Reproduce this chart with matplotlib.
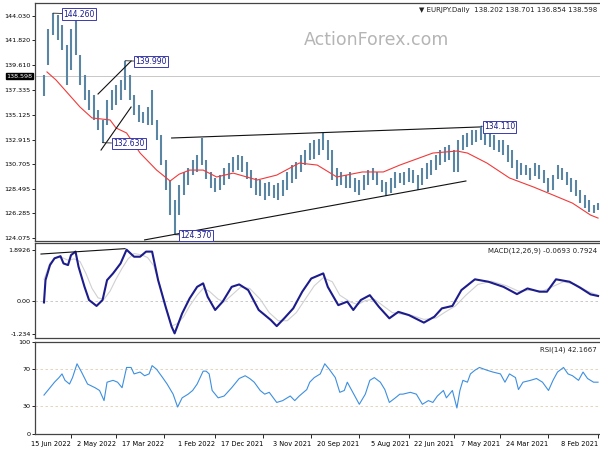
import numpy as np
import matplotlib
matplotlib.use("Agg")
import matplotlib.pyplot as plt
from matplotlib.transforms import blended_transform_factory

# Bar index 0 = 8 Feb 2021, counted in trading days; the chart is drawn mirrored
# (newest on the left, price scale on the left) like the reference.

# ---- price bars (every 3rd bar) ----
price_bar = np.arange(0, 370, 3)
price_high = [127.2, 127.0, 127.5, 127.9, 128.4, 129.3, 129.5, 130.0, 130.4, 130.6,
              129.7, 129.5, 130.2, 130.6, 130.8, 130.4, 130.6, 130.8, 131.1, 132.0,
              132.4, 132.9, 132.9, 133.3, 133.5, 133.6, 134.11, 133.8, 133.8, 133.5,
              133.3, 132.9, 132.0, 132.4, 132.2, 132.0, 131.5, 131.1, 130.8, 130.4,
              129.7, 130.2, 130.4, 130.0, 129.9, 130.0, 129.5, 129.1, 129.3, 130.0,
              130.4, 130.2, 129.7, 129.3, 129.5, 130.0, 129.7, 130.0, 130.4, 132.0,
              132.9, 133.5, 133.0, 132.9, 132.6, 132.0, 131.5, 130.9, 130.6, 130.0,
              129.3, 129.0, 128.8, 129.1, 129.0, 129.3, 129.5, 130.2, 130.9, 131.4,
              131.5, 131.3, 130.8, 130.4, 129.7, 129.5, 130.0, 131.1, 133.05, 131.5,
              131.1, 130.4, 130.0, 128.8, 127.5, 129.3, 131.1, 133.3, 134.7, 137.4,
              135.8, 135.4, 136.0, 136.9, 138.7, 139.99, 138.3, 137.8, 137.4, 136.5,
              134.7, 135.6, 136.9, 137.4, 138.7, 140.5, 144.1, 142.8, 141.4, 143.2,
              144.1, 144.26, 142.8, 138.70]
price_low = [126.6, 126.3, 126.4, 126.8, 127.2, 127.8, 128.2, 128.8, 129.3, 129.4,
             128.4, 128.2, 129.0, 129.4, 129.6, 129.3, 129.7, 129.7, 129.4, 130.4,
             130.9, 131.5, 131.8, 132.0, 132.2, 132.4, 132.9, 132.7, 132.4, 132.2,
             132.0, 130.0, 130.0, 131.1, 130.9, 130.6, 130.2, 129.7, 129.4, 128.8,
             128.4, 129.0, 129.1, 128.8, 129.0, 128.6, 128.1, 127.8, 128.2, 128.8,
             129.3, 128.8, 128.4, 127.9, 128.2, 128.6, 128.6, 128.8, 128.7, 129.3,
             131.1, 132.0, 131.5, 131.2, 131.1, 130.6, 130.0, 129.4, 129.0, 128.4,
             127.8, 127.5, 127.7, 127.8, 127.5, 127.8, 127.9, 128.6, 129.4, 130.0,
             130.2, 130.0, 129.4, 128.8, 128.4, 128.2, 128.6, 129.4, 130.6, 130.0,
             129.7, 128.8, 127.9, 126.1, 124.37, 126.1, 128.4, 130.6, 132.9, 134.2,
             134.2, 134.4, 134.5, 135.1, 136.5, 137.4, 136.5, 136.0, 135.6, 134.2,
             132.63, 133.8, 134.7, 135.6, 136.5, 137.8, 140.5, 139.2, 137.8, 140.95,
             141.85, 142.3, 139.6, 136.85]

# ---- moving average ----
ma_bar = [0, 5, 17, 30, 43, 59, 74, 87, 94, 110, 132, 143, 157, 174, 187, 199, 214,
          227, 243, 254, 263, 272, 279, 285, 294, 305, 314, 321, 325, 337, 345, 361, 367]
ma_val = [125.86, 126.13, 127.2, 127.93, 128.65, 129.46, 130.8, 131.7, 131.88, 131.7,
          130.62, 130.0, 130.0, 129.55, 130.62, 130.8, 129.72, 129.28, 129.9, 129.55,
          130.17, 130.17, 129.8, 129.19, 130.17, 131.7, 133.5, 133.95, 134.67, 134.85,
          135.83, 138.26, 138.98]

# ---- MACD ----
macd_bar = [0, 5, 12, 19, 28, 34, 39, 47, 54, 63, 73, 82, 91, 97, 104, 109, 116, 126,
            133, 139, 146, 152, 158, 163, 167, 173, 180, 183, 191, 197, 203, 209, 214,
            218, 226, 233, 239, 244, 250, 255, 260, 263, 267, 272, 277, 282, 284, 288,
            293, 297, 301, 305, 309, 314, 318, 323, 327, 330, 334, 339, 342, 346, 348,
            351, 353, 356, 358, 362, 365, 368, 369]
macd_val = [0.17, 0.23, 0.48, 0.7, 0.79, 0.33, 0.33, 0.45, 0.24, 0.51, 0.7, 0.79,
            0.39, -0.2, -0.29, -0.6, -0.82, -0.54, -0.42, -0.66, -0.23, 0.2, 0.02,
            -0.35, -0.04, -0.17, 0.51, 1.01, 0.82, 0.33, -0.29, -0.66, -0.95, -0.72,
            -0.35, 0.39, 0.6, 0.51, -0.04, -0.35, 0.14, 0.64, 0.51, 0.08, -0.48, -1.22,
            -0.97, -0.23, 0.76, 1.82, 1.82, 1.63, 1.63, 1.89, 1.38, 1.01, 0.76, 0.02,
            -0.2, 0.02, 0.51, 1.26, 1.82, 1.69, 1.32, 1.38, 1.65, 1.57, 1.32, 0.76, -0.07]
signal_bar = [0, 7, 15, 23, 31, 37, 45, 53, 61, 71, 80, 88, 95, 101, 108, 116, 124,
              131, 137, 143, 149, 155, 160, 165, 172, 177, 183, 189, 195, 201, 207, 213,
              219, 225, 232, 238, 243, 249, 253, 259, 263, 267, 272, 276, 280, 284, 288,
              292, 296, 300, 304, 309, 313, 317, 321, 325, 329, 333, 337, 341, 345, 349,
              353, 357, 361, 365, 369]
signal_val = [0.2, 0.35, 0.6, 0.7, 0.5, 0.35, 0.38, 0.35, 0.55, 0.72, 0.6, 0.2, -0.2,
              -0.4, -0.65, -0.7, -0.55, -0.5, -0.45, -0.2, 0.05, 0.0, -0.15, -0.05, 0.2,
              0.7, 0.85, 0.55, 0.05, -0.45, -0.75, -0.75, -0.45, 0.05, 0.45, 0.5, 0.25,
              -0.05, 0.05, 0.35, 0.45, 0.2, -0.2, -0.6, -0.85, -0.95, -0.2, 0.6, 1.3,
              1.6, 1.7, 1.75, 1.55, 1.2, 0.8, 0.35, 0.05, 0.1, 0.45, 1.0, 1.45, 1.55,
              1.5, 1.6, 1.6, 1.4, 0.79]

# ---- RSI ----
rsi_bar = [0, 3, 7, 10, 13, 17, 20, 23, 27, 30, 33, 37, 41, 45, 50, 53, 55, 59, 62,
           65, 70, 74, 79, 82, 85, 87, 90, 92, 94, 97, 101, 103, 107, 110, 113, 117,
           121, 125, 130, 132, 135, 139, 142, 145, 149, 152, 155, 159, 161, 164, 167,
           169, 172, 175, 179, 182, 185, 189, 192, 194, 199, 202, 205, 210, 214, 219,
           222, 225, 229, 232, 235, 239, 244, 249, 253, 257, 259, 261, 263, 267, 270,
           273, 277, 280, 283, 287, 290, 294, 297, 299, 302, 305, 309, 311, 314, 317,
           320, 323, 327, 329, 332, 335, 340, 344, 347, 350, 352, 355, 357, 359, 362,
           365, 369]
rsi_val = [56, 56, 60, 67, 58, 63, 65, 72, 67, 58, 47, 56, 60, 58, 56, 48, 61, 65, 56,
           65, 67, 69, 72, 69, 65, 56, 58, 47, 28, 47, 39, 47, 41, 34, 36, 32, 43, 45,
           43, 43, 39, 34, 48, 56, 61, 58, 43, 32, 38, 47, 56, 47, 45, 61, 70, 76, 65,
           61, 56, 48, 41, 36, 41, 36, 34, 45, 43, 47, 56, 60, 63, 60, 50, 41, 39, 47,
           65, 68, 68, 54, 47, 43, 39, 29, 43, 54, 61, 70, 74, 65, 63, 67, 65, 72, 72,
           50, 56, 58, 56, 36, 47, 50, 54, 67, 76, 61, 54, 58, 65, 61, 56, 50, 42]

# ---- trend lines (bar, price) ----
trend_lines = [((333, 137.0), (311, 139.96)),
               ((331, 131.97), (311, 135.83)),
               ((284, 133.05), (79, 134.04)),
               ((302, 123.9), (88, 129.19))]
macd_line = ((371, 1.73), (315, 1.93))

# ---- labelled extremes: (bar, price, text bar, text price, label) ----
marks = [(363, 144.26, 356, 144.18, "144.260"),
         (315, 139.99, 308, 139.9, "139.990"),
         (330, 132.63, 323, 132.55, "132.630"),
         (282, 124.37, 278, 124.3, "124.370"),
         (78, 134.11, 76, 134.04, "134.110")]

date_bar = [0, 33, 65, 96, 126, 159, 191, 223, 255, 289, 321, 351]
date_lbl = ["8 Feb 2021", "24 Mar 2021", "7 May 2021", "22 Jun 2021", "5 Aug 2021",
            "20 Sep 2021", "3 Nov 2021", "17 Dec 2021", "1 Feb 2022", "17 Mar 2022",
            "2 May 2022", "15 Jun 2022"]

main_ticks = [144.030, 141.820, 139.610, 137.335, 135.125, 132.915, 130.705,
              128.495, 126.285, 124.075]
last_price = 138.598

plt.rcParams['font.family'] = ['DejaVu Sans']
fig = plt.figure(figsize=(6, 4.5), dpi=100)
ax = fig.add_axes([0.0583, 0.4644, 0.9417, 0.5289])
ax2 = fig.add_axes([0.0583, 0.2496, 0.9417, 0.2104])
ax3 = fig.add_axes([0.0583, 0.0349, 0.9417, 0.2058])

for a in (ax, ax2, ax3):
    a.set_xlim(375, -1.3)
    for s in ('top', 'left', 'bottom'):
        a.spines[s].set_color('#444444')
        a.spines[s].set_linewidth(0.9)
    a.spines['right'].set_visible(False)
    a.tick_params(axis='y', labelsize=4.6, length=2, width=0.6, pad=1)
    a.tick_params(axis='x', length=0)
    a.set_xticks([])

# main panel
ax.set_ylim(123.8, 145.17)
ax.vlines(price_bar, price_low, price_high, color='#5a86a3', lw=1.5)
ax.plot(ma_bar, ma_val, color='#f03a3a', lw=0.8)
ax.axhline(last_price, color='#c8c8c8', lw=0.7, zorder=0)
for (b0, p0), (b1, p1) in trend_lines:
    ax.plot([b0, b1], [p0, p1], color='#111111', lw=0.8)
for b, p, tb, tp, lbl in marks:
    ax.annotate(lbl, xy=(b, p), xytext=(tb, tp), fontsize=5.5, color='#1a1a8a',
                ha='left', va='center',
                bbox=dict(boxstyle='square,pad=0.15', fc='white', ec='#3a3ab0', lw=0.7),
                arrowprops=dict(arrowstyle='-', color='#222222', lw=0.6,
                                shrinkA=0, shrinkB=0))
ax.set_yticks(main_ticks)
ax.set_yticklabels([f"{v:.3f}" for v in main_ticks])
tr = blended_transform_factory(ax.transAxes, ax.transData)
ax.text(-0.004, last_price, f"{last_price:.3f}", transform=tr, ha='right', va='center',
        fontsize=4.6, color='white',
        bbox=dict(boxstyle='square,pad=0.12', fc='black', ec='black'))
ax.text(0.995, 0.985, "\u25bc EURJPY.Daily  138.202 138.701 136.854 138.598",
        transform=ax.transAxes, ha='right', va='top', fontsize=5, color='#222222')
ax.text(0.605, 0.845, "ActionForex.com", transform=ax.transAxes, ha='center',
        va='center', fontsize=12.5, color='#b5b5b5')

# MACD panel
ax2.set_ylim(-1.38, 2.14)
ax2.axhline(0, color='#c0c0c0', lw=0.6, ls=(0, (3, 3)))
ax2.plot(signal_bar, signal_val, color='#d0d0d0', lw=0.8)
ax2.plot(macd_bar, macd_val, color='#1c1c8c', lw=1.5)
ax2.plot([macd_line[0][0], macd_line[1][0]], [macd_line[0][1], macd_line[1][1]],
         color='#111111', lw=0.8)
ax2.set_yticks([1.8926, 0.0, -1.234])
ax2.set_yticklabels(["1.8926", "0.00", "-1.234"])
ax2.text(0.995, 0.95, "MACD(12,26,9) -0.0693 0.7924", transform=ax2.transAxes,
         ha='right', va='top', fontsize=5, color='#222222')

# RSI panel
ax3.set_ylim(-0.6, 99.5)
for lvl in (70, 30):
    ax3.axhline(lvl, color='#e0cdb0', lw=0.6, ls=(0, (3, 3)))
ax3.plot(rsi_bar, rsi_val, color='#3d8fe0', lw=0.8)
ax3.set_yticks([100, 70, 30, 0])
ax3.set_yticklabels(["100", "70", "30", "0"])
ax3.text(0.995, 0.95, "RSI(14) 42.1667", transform=ax3.transAxes, ha='right',
         va='top', fontsize=5, color='#222222')
ax3.set_xticks(date_bar)
ax3.set_xticklabels(date_lbl, ha='right')
ax3.tick_params(axis='x', labelsize=4.8, length=3, width=0.6, pad=1.5, direction='out')

fig.savefig("out.png", dpi=100)
